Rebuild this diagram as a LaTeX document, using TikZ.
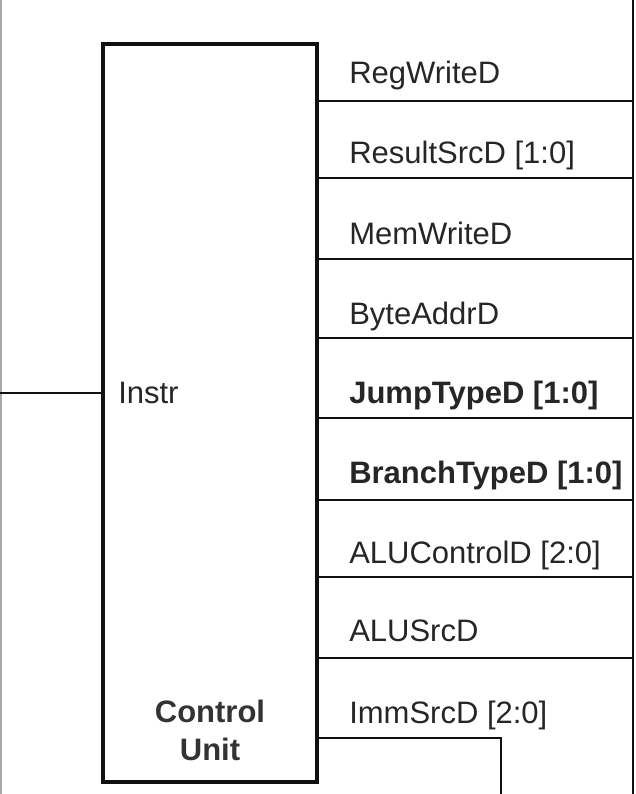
\documentclass[tikz,border=0pt]{standalone}
\usepackage{fontspec}
\setmainfont{Liberation Sans}
\usepackage{xcolor}
\usetikzlibrary{positioning, calc}
\definecolor{wireDark}{HTML}{111111}
\definecolor{edgeGray}{HTML}{A8A8A8}

\begin{document}
\begin{tikzpicture}[x=0.75pt, y=-0.75pt]
        % Styles
        \tikzstyle{unit} = [rectangle, minimum width=214*0.75pt, minimum height=738*0.75pt, draw=wireDark, line width=3pt, inner sep=0pt]
        \tikzstyle{sig} = [anchor=base west, inner sep=0pt, font=\fontsize{23.25}{27}\selectfont, text=black!85]
        \tikzstyle{sigb} = [sig, font=\fontsize{23.25}{27}\selectfont\bfseries]
        \tikzstyle{wire} = [line width=1.5pt, color=wireDark]
        \tikzstyle{rail} = [line width=2.2pt, color=wireDark]

        \useasboundingbox (0,0) rectangle (636,794);

        % Control unit box
        \node (cu) [unit] at (210,413) {};
        \node (cuname) [anchor=base, align=center, inner sep=0pt, font=\fontsize{23.25}{28}\selectfont\bfseries, text=black!80] at (210,760) {Control\\Unit};
        \node (instr) [sig] at (118,403) {Instr};

        % Output signals
        \node (regw) [sig] at (349,83) {RegWriteD};
        \node (ressrc) [sig] at (349,163) {ResultSrcD [1:0]};
        \node (memw) [sig] at (349,244) {MemWriteD};
        \node (byte) [sig] at (349,324) {ByteAddrD};
        \node (jump) [sigb] at (349,403) {JumpTypeD [1:0]};
        \node (branch) [sigb] at (349,483) {BranchTypeD [1:0]};
        \node (aluctl) [sig] at (349,563) {ALUControlD [2:0]};
        \node (alusrc) [sig] at (349,641) {ALUSrcD};
        \node (immsrc) [sig] at (349,723) {ImmSrcD [2:0]};

        % Rails
        \coordinate (lt) at (1,0);
        \coordinate (lb) at (1,794);
        \coordinate (rt) at (633,0);
        \coordinate (rb) at (633,794);
        \draw [line width=1.5pt, color=edgeGray] (lt) -- (lb);
        \draw [rail] (rt) -- (rb);

        % Separators
        \coordinate (s1) at (633,101);
        \coordinate (s2) at (633,178);
        \coordinate (s3) at (633,259);
        \coordinate (s4) at (633,338);
        \coordinate (s5) at (633,418);
        \coordinate (s6) at (633,500);
        \coordinate (s7) at (633,577);
        \coordinate (s8) at (633,658);
        \draw [wire] (s1 -| cu.east) -- (s1);
        \draw [wire] (s2 -| cu.east) -- (s2);
        \draw [wire] (s3 -| cu.east) -- (s3);
        \draw [wire] (s4 -| cu.east) -- (s4);
        \draw [wire] (s5 -| cu.east) -- (s5);
        \draw [wire] (s6 -| cu.east) -- (s6);
        \draw [wire] (s7 -| cu.east) -- (s7);
        \draw [wire] (s8 -| cu.east) -- (s8);

        % Instr input and ImmSrc output
        \coordinate (inend) at (0,393);
        \draw [wire, line width=2pt] (inend) -- (inend -| cu.west);
        \coordinate (immbend) at (501,738);
        \coordinate (immend) at (501,794);
        \draw [wire] (immbend -| cu.east) -- (immbend) -- (immend);

    \end{tikzpicture}
\end{document}
